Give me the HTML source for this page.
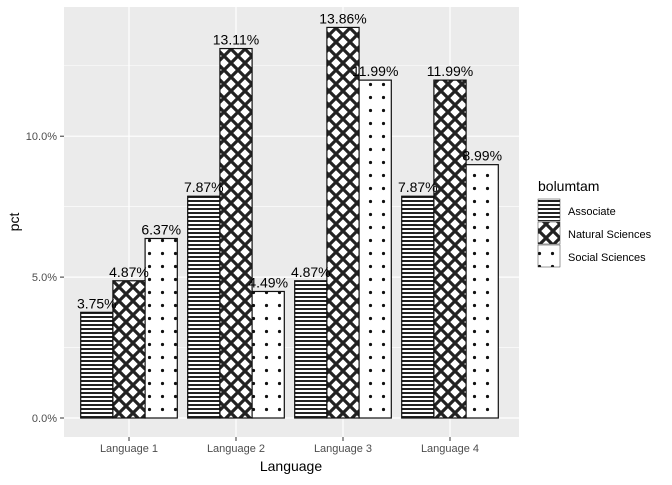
<!DOCTYPE html>
<html><head><meta charset="utf-8"><style>
body{margin:0;background:#fff;font-family:"Liberation Sans",Arial,sans-serif}
</style></head><body>
<svg id="chart" width="672" height="480" xmlns="http://www.w3.org/2000/svg" font-family="Liberation Sans, Arial, sans-serif">
<defs>
<pattern id="p-stripe" patternUnits="userSpaceOnUse" width="8" height="4"><rect width="8" height="4" fill="#fff"/><rect y="0" width="8" height="2" fill="#222"/></pattern>
<pattern id="p-cross" patternUnits="userSpaceOnUse" width="14" height="14"><rect width="14" height="14" fill="#fff"/><path d="M-2,2 L2,-2 M0,14 L14,0 M12,16 L16,12 M-2,12 L2,16 M0,0 L14,14 M12,-2 L16,2" stroke="#222" stroke-width="3.2"/></pattern>
<pattern id="p-dot" patternUnits="userSpaceOnUse" width="13" height="13"><rect width="13" height="13" fill="#fff"/><circle cx="6.5" cy="6.5" r="1.6" fill="#111"/></pattern>
</defs>
<rect x="64" y="7" width="455" height="430" fill="#ebebeb"/>
<g id="grid"></g>
<g id="bars"></g>
<g id="labels"></g>
<g id="axes"></g>
<text x="291" y="471" font-size="14" text-anchor="middle">Language</text>
<text transform="translate(19,222) rotate(-90)" font-size="14" text-anchor="middle">pct</text>
<g>
<text x="538" y="191" font-size="14">bolumtam</text>
<rect x="538" y="199" width="22" height="22" fill="url(#p-stripe)" stroke="#333" stroke-width="0.5"/>
<text x="568" y="215" font-size="11">Associate</text>
<rect x="538" y="222" width="22" height="22" fill="url(#p-cross)" stroke="#333" stroke-width="0.5"/>
<text x="568" y="238" font-size="11">Natural Sciences</text>
<rect x="538" y="245" width="22" height="22" fill="url(#p-dot)" stroke="#333" stroke-width="0.5"/>
<text x="568" y="261" font-size="11">Social Sciences</text>
</g>
</svg>
<script>
const categories = ["Language 1","Language 2","Language 3","Language 4"];
const associate = [3.75, 7.87, 4.87, 7.87];
const natural = [4.87, 13.11, 13.86, 11.99];
const social = [6.37, 4.49, 11.99, 8.99];
const yTicks = [0, 5, 10];
const yTickLabels = ["0.0%","5.0%","10.0%"];
const NS="http://www.w3.org/2000/svg";
const svg=document.getElementById('chart');
function y(v){return 418 - v*28.18;}
function xc(i){return 129 + i*107;}
function mk(tag,attrs,parent){const e=document.createElementNS(NS,tag);for(const k in attrs)e.setAttribute(k,attrs[k]);parent.appendChild(e);return e;}
const grid=document.getElementById('grid'), bars=document.getElementById('bars'), labels=document.getElementById('labels'), axes=document.getElementById('axes');
for(let v=2.5; v<15.5; v+=5){const l=mk('line',{x1:64,x2:519,y1:y(v),y2:y(v),stroke:'#fff','stroke-width':0.6},grid);

}
yTicks.forEach((t,i)=>{const l=mk('line',{x1:64,x2:519,y1:y(t),y2:y(t),stroke:'#fff','stroke-width':1.2},grid);


mk('line',{x1:60,x2:64,y1:y(t),y2:y(t),stroke:'#333'},axes);
const tx=mk('text',{x:57,y:y(t)+4,'font-size':11,fill:'#4d4d4d','text-anchor':'end'},axes);tx.textContent=yTickLabels[i];

});
categories.forEach((c,i)=>{const l=mk('line',{x1:xc(i),x2:xc(i),y1:7,y2:437,stroke:'#fff','stroke-width':1.2},grid);


mk('line',{x1:xc(i),x2:xc(i),y1:437,y2:441,stroke:'#333'},axes);
const tx=mk('text',{x:xc(i),y:452,'font-size':11,fill:'#4d4d4d','text-anchor':'middle'},axes);tx.textContent=c;

});
const series=[[associate,'p-stripe','associate'],[natural,'p-cross','natural'],[social,'p-dot','social']];
const bw=32.2;
categories.forEach((c,i)=>{series.forEach((s,j)=>{const v=s[0][i];const x0=xc(i)-1.5*bw+j*bw;
const r=mk('rect',{x:x0,y:y(v),width:bw,height:y(0)-y(v),fill:'url(#'+s[1]+')',stroke:'#111','stroke-width':1.2},bars);


const t=mk('text',{x:x0+bw/2,y:y(v)-4,'font-size':14,'text-anchor':'middle'},labels);t.textContent=v.toFixed(2)+'%';

});});
</script>
</body></html>
